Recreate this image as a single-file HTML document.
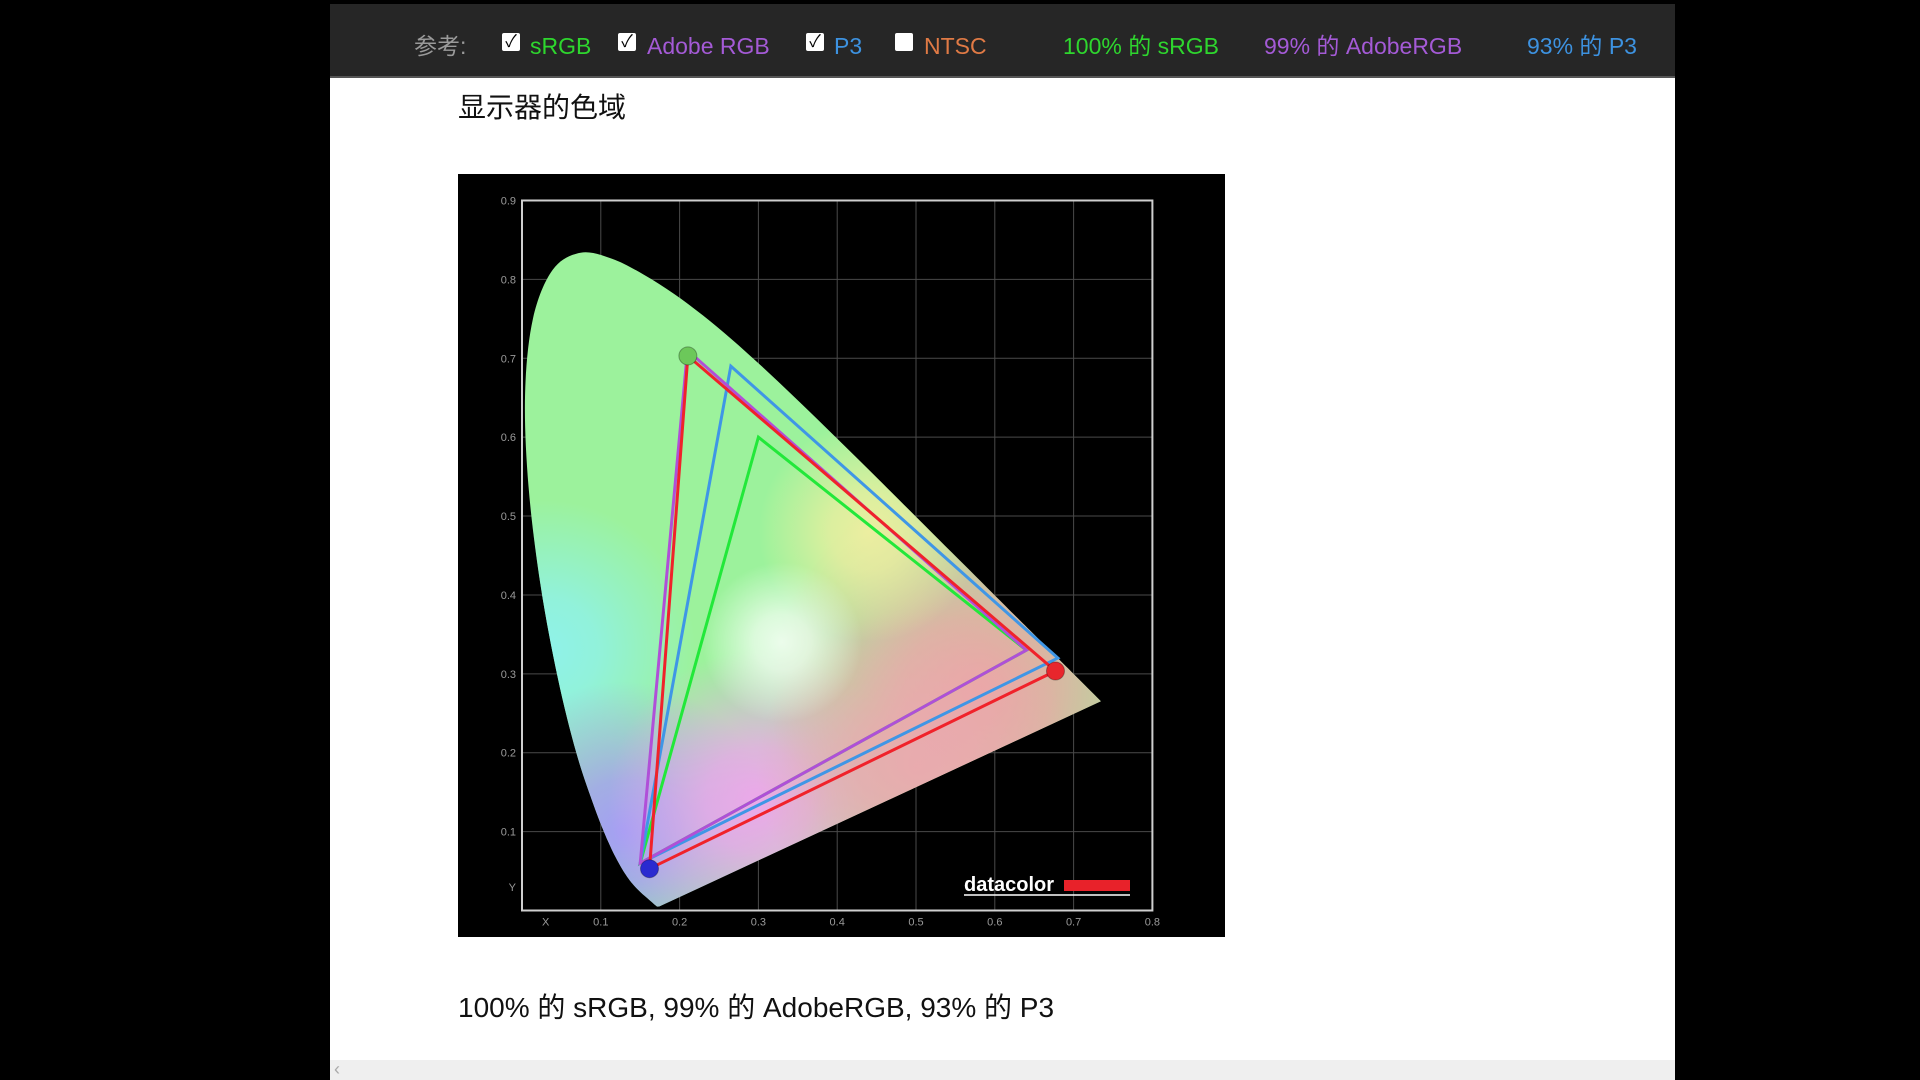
<!DOCTYPE html>
<html><head><meta charset="utf-8">
<style>
html,body{margin:0;padding:0;width:1920px;height:1080px;background:#000;overflow:hidden;font-family:"Liberation Sans","Noto Sans CJK SC",sans-serif;}
#page{position:absolute;left:330px;top:4px;width:1345px;height:1076px;background:#fff;}
#hdr{position:absolute;left:0;top:0;width:1345px;height:72px;background:#262626;border-bottom:2px solid #555;}
.h{position:absolute;top:30px;font-size:23px;line-height:24px;white-space:nowrap;}
.cb{position:absolute;top:29px;width:18px;height:18px;background:#fff;border-radius:2px;color:#000;font-size:17px;line-height:18px;text-align:center;}
#title{position:absolute;left:128px;top:82px;font-size:28px;color:#111;}
#cap{position:absolute;left:128px;top:982px;font-size:28px;color:#111;}
#chart{position:absolute;left:458px;top:174px;}
#scroll{position:absolute;left:0;top:1056px;width:1345px;height:20px;background:#efefef;color:#aaa;font-size:18px;}
</style></head><body>
<div id="page">
 <div id="hdr">
  <span class="h" style="left:84px;color:#9a9a9a">参考:</span>
  <span class="cb" style="left:172px">✓</span>
  <span class="h" style="left:200px;color:#2ed62e">sRGB</span>
  <span class="cb" style="left:288px">✓</span>
  <span class="h" style="left:317px;color:#a45ad6">Adobe RGB</span>
  <span class="cb" style="left:476px">✓</span>
  <span class="h" style="left:504px;color:#3d92e0">P3</span>
  <span class="cb" style="left:565px"></span>
  <span class="h" style="left:594px;color:#e07a45">NTSC</span>
  <span class="h" style="left:733px;color:#2ed62e">100% 的 sRGB</span>
  <span class="h" style="left:934px;color:#a45ad6">99% 的 AdobeRGB</span>
  <span class="h" style="left:1197px;color:#3d92e0">93% 的 P3</span>
 </div>
 <div id="title">显示器的色域</div>
 <div id="cap">100% 的 sRGB, 99% 的 AdobeRGB, 93% 的 P3</div>
 <div id="scroll"><span style="position:absolute;left:4px;top:-1px">‹</span></div>
</div>
<svg id="chart" width="767" height="763"></svg>
<script>
const xTicks=[0.1,0.2,0.3,0.4,0.5,0.6,0.7,0.8];
const yTicks=[0.1,0.2,0.3,0.4,0.5,0.6,0.7,0.8,0.9];
const locusX=[0.1741,0.1714,0.1689,0.1644,0.1611,0.1566,0.1510,0.1440,0.1355,0.1241,0.1096,0.0913,0.0687,0.0454,0.0235,0.0082,0.0039,0.0139,0.0389,0.0743,0.1142,0.1547,0.1929,0.2296,0.2658,0.3016,0.3373,0.3731,0.4087,0.4441,0.4788,0.5125,0.5448,0.5752,0.6029,0.6270,0.6658,0.6915,0.7347];
const locusY=[0.0050,0.0051,0.0069,0.0109,0.0138,0.0177,0.0227,0.0297,0.0399,0.0578,0.0868,0.1327,0.2007,0.2950,0.4127,0.5384,0.6548,0.7502,0.8120,0.8338,0.8262,0.8059,0.7816,0.7543,0.7243,0.6923,0.6589,0.6245,0.5896,0.5547,0.5202,0.4866,0.4544,0.4242,0.3965,0.3725,0.3340,0.3083,0.2653];
const gamutNames=['srgb','p3','adobergb','measured'];
const gamutColors=['#22e83a','#3f96e6','#b04fd8','#f0222a'];
const gamutX=[[0.30,0.64,0.15],[0.265,0.68,0.15],[0.21,0.64,0.15],[0.2105,0.677,0.1618]];
const gamutY=[[0.60,0.33,0.06],[0.69,0.32,0.06],[0.71,0.33,0.06],[0.703,0.3036,0.053]];
const ox=458,oy=174;
function X(v){return 522+v*788-ox;}
function Y(v){return 910.5-v*788.9-oy;}
const NS='http://www.w3.org/2000/svg';
const svg=document.getElementById('chart');
function mk(t,a,p){const e=document.createElementNS(NS,t);for(const k in a)e.setAttribute(k,a[k]);(p||svg).appendChild(e);return e;}
const bg=mk('rect',{x:0,y:0,width:767,height:763,fill:'#000'});


const defs=mk('defs',{});
const blobs=[['gC',0.03,0.33,'#8ef2ee',150,0.95],['gB',0.13,0.10,'#a49ef4',150,1],['gPk',0.30,0.14,'#f0a4ee',150,0.95],['gR',0.58,0.28,'#eaa6a4',210,1],['gR2',0.50,0.18,'#eca8b0',160,0.9],['gY',0.44,0.48,'#f4eea0',110,0.9],['gW',0.33,0.34,'#ffffff',80,0.8]];
blobs.forEach(b=>{const g=mk('radialGradient',{id:b[0],cx:X(b[1]),cy:Y(b[2]),r:b[4],gradientUnits:'userSpaceOnUse'},defs);
mk('stop',{offset:0,'stop-color':b[3],'stop-opacity':b[5]},g);mk('stop',{offset:0.35,'stop-color':b[3],'stop-opacity':b[5]*0.8},g);mk('stop',{offset:1,'stop-color':b[3],'stop-opacity':0},g);});
const P=locusX.map((x,i)=>[X(x),Y(locusY[i])]);
let d='M'+P[0][0]+','+P[0][1];
for(let i=0;i<P.length-1;i++){const p0=P[Math.max(0,i-1)],p1=P[i],p2=P[i+1],p3=P[Math.min(P.length-1,i+2)];
d+=' C'+(p1[0]+(p2[0]-p0[0])/6)+','+(p1[1]+(p2[1]-p0[1])/6)+' '+(p2[0]-(p3[0]-p1[0])/6)+','+(p2[1]-(p3[1]-p1[1])/6)+' '+p2[0]+','+p2[1];}
d+='Z';
const cp=mk('clipPath',{id:'lc'},defs);mk('path',{d:d},cp);
xTicks.forEach(v=>{const l=mk('line',{x1:X(v),x2:X(v),y1:Y(0.9),y2:Y(0),stroke:'#4a4a4a','stroke-width':1});

const t=mk('text',{x:X(v),y:Y(0)+15,fill:'#9a9a9a','font-size':11,'text-anchor':'middle','font-family':'Liberation Sans'});t.textContent=v.toFixed(1);
});
yTicks.forEach(v=>{const l=mk('line',{x1:X(0),x2:X(0.8),y1:Y(v),y2:Y(v),stroke:'#4a4a4a','stroke-width':1});

const t=mk('text',{x:X(0)-6,y:Y(v)+4,fill:'#9a9a9a','font-size':11,'text-anchor':'end','font-family':'Liberation Sans'});t.textContent=v.toFixed(1);
});
const fillG=mk('g',{'clip-path':'url(#lc)'});


mk('rect',{x:0,y:0,width:767,height:763,fill:'#9cf29c'},fillG);
blobs.forEach(b=>mk('rect',{x:0,y:0,width:767,height:763,fill:'url(#'+b[0]+')'},fillG));
const fr=mk('rect',{x:X(0),y:Y(0.9),width:X(0.8)-X(0),height:Y(0)-Y(0.9),fill:'none',stroke:'#cfcfcf','stroke-width':2});

const xl=mk('text',{x:X(0.03),y:Y(0)+15,fill:'#9a9a9a','font-size':11,'text-anchor':'middle'});xl.textContent='X';

const yl=mk('text',{x:X(0)-6,y:Y(0.03)+4,fill:'#9a9a9a','font-size':11,'text-anchor':'end'});yl.textContent='Y';

gamutNames.forEach((n,i)=>{const pts=gamutX[i].map((x,j)=>X(x)+','+Y(gamutY[i][j])).join(' ');
const p=mk('polygon',{points:pts,fill:'none',stroke:gamutColors[i],'stroke-width':3,'stroke-linejoin':'miter'});
});
const dotCols=['#6cc85a','#e8262c','#2a2ad0'];
const mi=gamutNames.indexOf('measured');
[0,1,2].forEach(j=>{const c=mk('circle',{cx:X(gamutX[mi][j]),cy:Y(gamutY[mi][j]),r:9,fill:dotCols[j],stroke:'rgba(0,0,0,0.3)','stroke-width':1});
});
const lg=mk('g',{});

const lt=mk('text',{x:506,y:717,fill:'#fff','font-size':20,'font-weight':'bold','font-family':'Liberation Sans'},lg);lt.textContent='datacolor';
mk('rect',{x:606,y:706,width:66,height:11,fill:'#e8222a'},lg);
mk('line',{x1:506,x2:672,y1:721,y2:721,stroke:'#fff','stroke-width':1.5},lg);
</script>
</body></html>
